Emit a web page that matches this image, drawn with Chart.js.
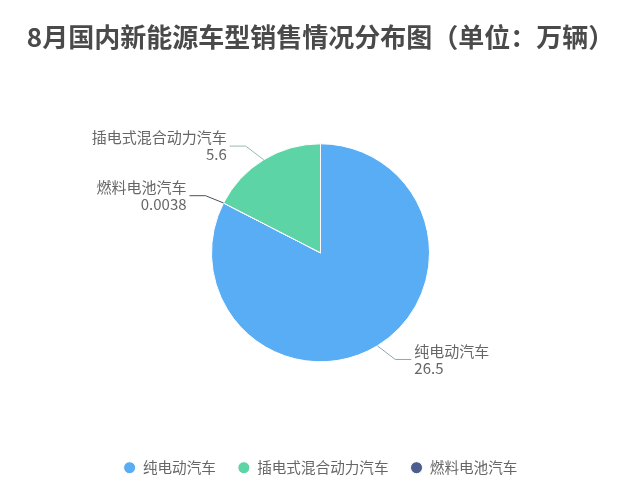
<!DOCTYPE html>
<html>
<head>
<meta charset="utf-8">
<script src="https://cdn.jsdelivr.net/npm/chart.js@4"></script>
<style>
  html, body { margin:0; padding:0; background:#fff; }
  #wrap { width:641px; height:502px; }
</style>
</head>
<body>
<div id="wrap"><canvas id="pie" width="641" height="502"></canvas></div>
<script>
// ===== Data =====
const titleText = "8月国内新能源车型销售情况分布图（单位：万辆）";
const categories = ["纯电动汽车", "燃料电池汽车", "插电式混合动力汽车"];
const sales = [26.5, 0.0038, 5.6];
const valueLabels = ["26.5", "0.0038", "5.6"];
const legendOrder = ["纯电动汽车", "插电式混合动力汽车", "燃料电池汽车"];
const sliceColors = ["#58adf5", "#4c5d8e", "#5dd4a6"];
const lineColors = ["#8fa6b8", "#4a4f5c", "#9bb8ac"];

const FONT = "'Noto Sans CJK SC', 'Noto Sans', sans-serif";

// ===== Label lines =====
const pieLabels = {
  id: "pieLabels",
  afterDatasetsDraw(chart) {
    const ctx = chart.ctx;
    const meta = chart.getDatasetMeta(0);
    meta.data.forEach((arc, i) => {
      const p = arc.getProps(["x", "y", "startAngle", "endAngle", "outerRadius"], true);
      const a = (p.startAngle + p.endAngle) / 2;
      const cx = Math.cos(a), sy = Math.sin(a);
      const side = cx >= 0 ? 1 : -1;
      const x0 = p.x + cx * p.outerRadius, y0 = p.y + sy * p.outerRadius;
      const x1 = x0 + side * 18, y1 = y0 + sy * 16;
      const x2 = x1 + side * 16;
      ctx.save();
      ctx.strokeStyle = lineColors[i];
      ctx.lineWidth = 1;
      ctx.beginPath();
      ctx.moveTo(x0, y0);
      ctx.lineTo(x1, y1);
      ctx.lineTo(x2, y1);
      ctx.stroke();
      ctx.fillStyle = "#666";
      ctx.font = "15px " + FONT;
      ctx.textAlign = side > 0 ? "left" : "right";
      ctx.textBaseline = "middle";
      const tx = x2 + side * 3;
      ctx.fillText(categories[i], tx, y1 - 8.5);
      ctx.fillText(valueLabels[i], tx, y1 + 8.5);
      ctx.restore();
    });
  }
};

// ===== Chart =====
const ctx = document.getElementById("pie").getContext("2d");
new Chart(ctx, {
  type: "pie",
  data: {
    labels: categories,
    datasets: [{
      data: sales,
      backgroundColor: sliceColors,
      borderColor: "#fff",
      borderWidth: 1,
      radius: 109
    }]
  },
  options: {
    responsive: false,
    animation: false,
    layout: { padding: { top: 0, bottom: 17 } },
    plugins: {
      title: {
        display: true,
        text: titleText,
        color: "#4a4a4a",
        font: { family: FONT, size: 26, weight: "bold" },
        padding: { top: 22, bottom: 14 }
      },
      legend: {
        position: "bottom",
        labels: {
          usePointStyle: true,
          pointStyle: "circle",
          boxWidth: 12,
          boxHeight: 8.5,
          padding: 22,
          color: "#666",
          font: { family: FONT, size: 14.6 },
          sort: (a, b) => legendOrder.indexOf(a.text) - legendOrder.indexOf(b.text)
        }
      },
      tooltip: { enabled: false }
    }
  },
  plugins: [pieLabels]
});
</script>
</body>
</html>
